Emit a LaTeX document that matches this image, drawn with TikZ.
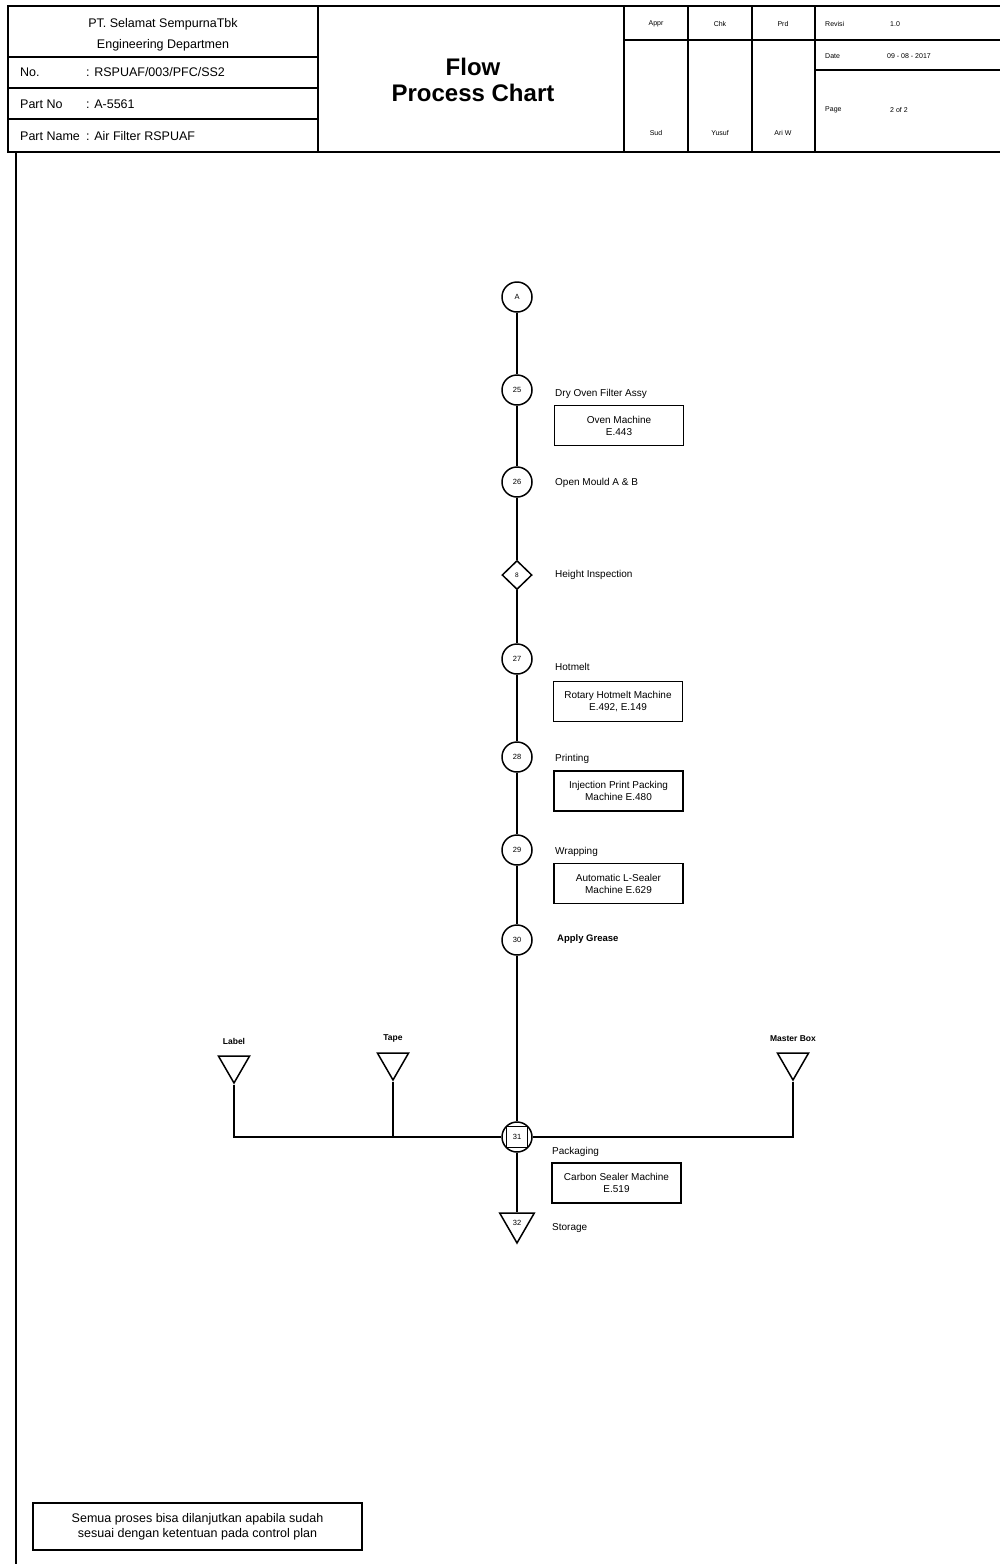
\documentclass[tikz,border=0pt]{standalone}
\usepackage{fontspec}
\setmainfont{Liberation Sans}
\usetikzlibrary{shapes.geometric}
\newcommand{\fs}[1]{\fontsize{#1}{1.2\dimexpr#1pt\relax}\selectfont}
\begin{document}
\begin{tikzpicture}[x=1pt,y=-1pt,
  frame/.style={line width=1.5pt},
  flow/.style={line width=1.6pt},
  opnode/.style={circle,draw,line width=1.5pt,minimum size=30pt,inner sep=0pt,font=\fs{7.5}},
  inspnode/.style={diamond,draw,line width=1.5pt,minimum width=30pt,minimum height=29pt,inner sep=0pt,font=\fs{6.5}},
  trinode/.style={regular polygon,regular polygon sides=3,shape border rotate=180,draw,line width=1.5pt,inner sep=0pt},
  machbox/.style={rectangle,draw,line width=1.4pt,minimum width=129pt,minimum height=40pt,align=center,inner sep=1pt,font=\fs{10}},
  steplabel/.style={anchor=west,inner sep=0pt,font=\fs{10}},
  matlabel/.style={inner sep=0pt,font=\bfseries\fs{8.5}},
  hdr/.style={inner sep=0pt,font=\fs{12.5}},
  hdrs/.style={inner sep=0pt,font=\fs{7}}
]
\useasboundingbox (0,0) rectangle (1000,1564);
\clip (0,0) rectangle (1000,1564);
\fill[white] (0,0) rectangle (1000,1564);

% ---------- header ----------
\draw[frame] (8,6) rectangle (1012,152);
\foreach \x in {318,624,688,752,815} \draw[frame] (\x,6) -- (\x,152);
\foreach \y in {57,88,119} \draw[frame] (8,\y) -- (318,\y);
\draw[frame] (624,40) -- (1012,40);
\draw[frame] (815,70) -- (1012,70);

\node[hdr] (co1) at (163,24) {PT. Selamat SempurnaTbk};
\node[hdr] (co2) at (163,45) {Engineering Departmen};
\node[hdr,anchor=west] (noL) at (20,72) {No.};
\node[hdr,anchor=west] (noV) at (86,72) {: RSPUAF/003/PFC/SS2};
\node[hdr,anchor=west] (pnL) at (20,104) {Part No};
\node[hdr,anchor=west] (pnV) at (86,104) {: A-5561};
\node[hdr,anchor=west] (pmL) at (20,136) {Part Name};
\node[hdr,anchor=west] (pmV) at (86,136) {: Air Filter RSPUAF};

\node[inner sep=0pt,font=\bfseries\fs{24},align=center] (title) at (473,80) {Flow\\[-2pt]Process Chart};

\node[hdrs] (h1) at (656,24) {Appr};
\node[hdrs] (h2) at (720,24) {Chk};
\node[hdrs] (h3) at (783,24) {Prd};
\node[hdrs] (n1) at (656,133) {Sud};
\node[hdrs] (n2) at (720,133) {Yusuf};
\node[hdrs] (n3) at (783,133) {Ari W};
\node[hdrs,anchor=west] (rv) at (825,24) {Revisi};
\node[hdrs,anchor=west] (rvv) at (890,24) {1.0};
\node[hdrs,anchor=west] (dt) at (825,56) {Date};
\node[hdrs,anchor=west] (dtv) at (887,56) {09 - 08 - 2017};
\node[hdrs,anchor=west] (pg) at (825,110) {Page};
\node[hdrs,anchor=west] (pgv) at (890,110) {2 of 2};

% body frame
\draw[frame] (16,152) -- (16,1570);

% ---------- flow ----------
\node[opnode] (nA) at (517,297) {A};
\node[opnode] (n25) at (517,390) {25};
\node[opnode] (n26) at (517,482) {26};
\node[inspnode] (n8) at (517,575) {8};
\node[opnode] (n27) at (517,659) {27};
\node[opnode] (n28) at (517,757) {28};
\node[opnode] (n29) at (517,850) {29};
\node[opnode] (n30) at (517,940) {30};
\node[opnode] (n31) at (517,1137) {};
\node[draw,line width=1.3pt,minimum size=21pt,inner sep=0pt,font=\fs{7.5}] (sq31) at (n31) {31};
\node[trinode,minimum size=40pt,font=\fs{7.5}] (n32) at (517,1223) {32};

\draw[flow] (nA) -- (n25);
\draw[flow] (n25) -- (n26);
\draw[flow] (n26) -- (n8);
\draw[flow] (n8) -- (n27);
\draw[flow] (n27) -- (n28);
\draw[flow] (n28) -- (n29);
\draw[flow] (n29) -- (n30);
\draw[flow] (n30) -- (n31);
\draw[flow] (n31) -- (n32);

\node[steplabel] (t25) at (555,394) {Dry Oven Filter Assy};
\node[machbox] (b25) at (619,425.5) {Oven Machine\\E.443};
\node[steplabel] (t26) at (555,483) {Open Mould A \& B};
\node[steplabel] (t8) at (555,575) {Height Inspection};
\node[steplabel] (t27) at (555,667) {Hotmelt};
\node[machbox] (b27) at (618,701.5) {Rotary Hotmelt Machine\\E.492, E.149};
\node[steplabel] (t28) at (555,759) {Printing};
\node[machbox] (b28) at (618.5,791) {Injection Print Packing\\Machine E.480};
\node[steplabel] (t29) at (555,852) {Wrapping};
\node[machbox] (b29) at (618.5,883.5) {Automatic L-Sealer\\Machine E.629};
\node[steplabel,font=\bfseries\fs{9.5}] (t30) at (557,939) {Apply Grease};
\node[steplabel] (t31) at (552,1152) {Packaging};
\node[machbox] (b31) at (616.5,1183) {Carbon Sealer Machine\\E.519};
\node[steplabel] (t32) at (552,1228) {Storage};

% materials
\node[trinode,minimum size=36pt] (mLabel) at (234,1065) {};
\node[trinode,minimum size=36pt] (mTape) at (393,1062) {};
\node[trinode,minimum size=36pt] (mBox) at (793,1062) {};
\node[matlabel] (tLabel) at (234,1041) {Label};
\node[matlabel] (tTape) at (393,1038) {Tape};
\node[matlabel] (tBox) at (793,1039) {Master Box};

\draw[flow] (mLabel.corner 1) |- (n31.west);
\draw[flow] (mTape.corner 1) -- (mTape.corner 1 |- n31.west);
\draw[flow] (mBox.corner 1) |- (n31.east);

% note
\node[draw,line width=1.4pt,minimum width=329pt,minimum height=47pt,align=center,inner sep=2pt,font=\fs{12.5}] (note) at (197.5,1526.5)
  {Semua proses bisa dilanjutkan apabila sudah\\sesuai dengan ketentuan pada control plan};
\end{tikzpicture}
\end{document}
